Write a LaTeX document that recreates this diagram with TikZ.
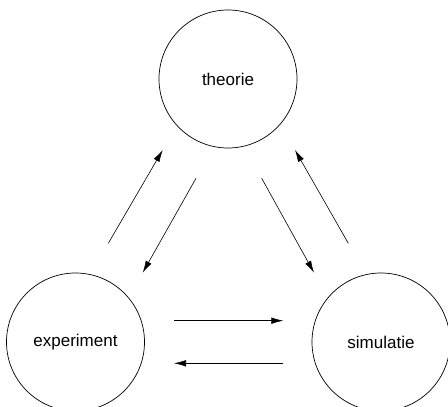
\documentclass[tikz,border=0pt]{standalone}
\usepackage{fontspec}
\setmainfont{Liberation Sans}
\usetikzlibrary{arrows.meta}
\begin{document}
\begin{tikzpicture}[x=1pt,y=-1pt,
  circ/.style={draw,circle,line width=0.7pt,minimum size=138pt,inner sep=0pt,font=\fontsize{17}{20}\selectfont},
  conn/.style={line width=0.6pt,-{Latex[length=12pt,width=6.5pt]}}]
\useasboundingbox (0,0) rectangle (448,407);
\node[circ] (th) at (228,79) {theorie};
\node[circ] (ex) at (75.5,342) {experiment};
\node[circ] (si) at (381,342) {simulatie};
\coordinate (a1) at (108.3,243.3);
\coordinate (a2) at (162.7,150);
\coordinate (b1) at (196,178.3);
\coordinate (b2) at (142.7,272.7);
\coordinate (c1) at (261.7,178.3);
\coordinate (c2) at (314,272.7);
\coordinate (d1) at (348.3,243.3);
\coordinate (d2) at (295,150);
\coordinate (e1) at (174,320.7);
\coordinate (e2) at (283.3,320.7);
\coordinate (f1) at (283.3,363.3);
\coordinate (f2) at (174,363.3);
\draw[conn] (a1) -- (a2);
\draw[conn] (b1) -- (b2);
\draw[conn] (c1) -- (c2);
\draw[conn] (d1) -- (d2);
\draw[conn] (e1) -- (e2);
\draw[conn] (f1) -- (f2);
\end{tikzpicture}
\end{document}
